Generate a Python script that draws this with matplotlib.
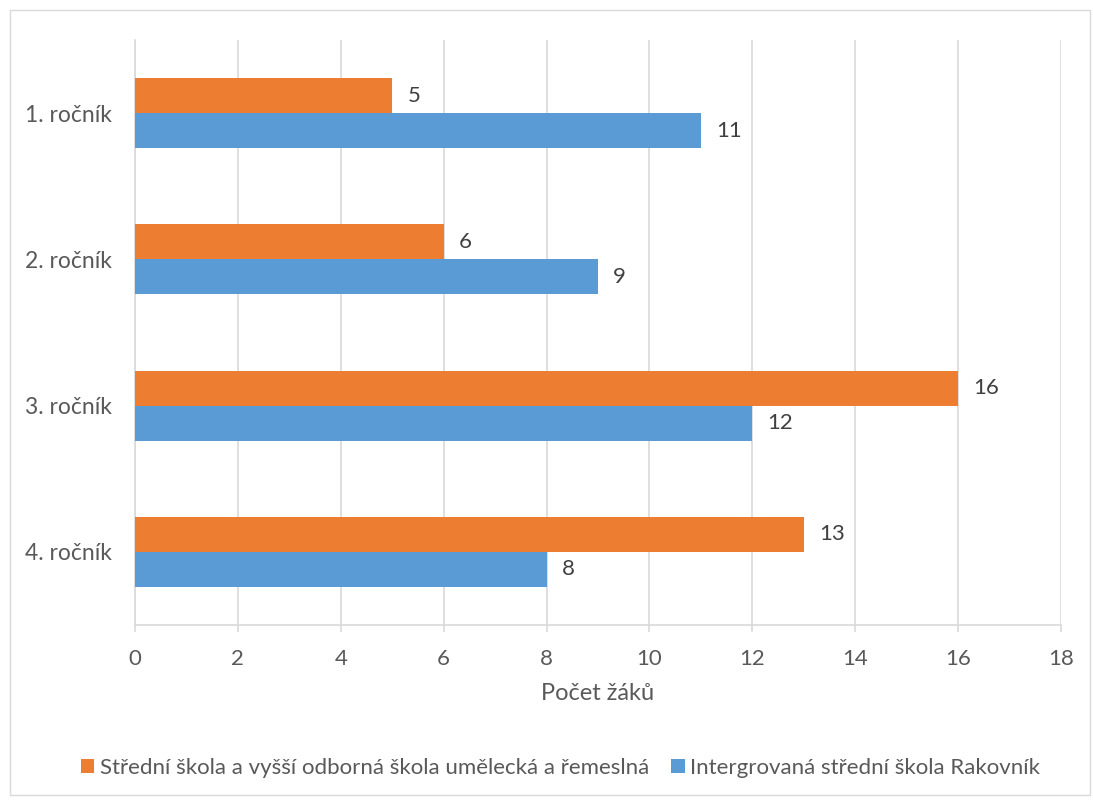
import matplotlib
matplotlib.use("Agg")
import matplotlib.pyplot as plt
import numpy as np
from matplotlib.patches import Rectangle

# data
categories = ["1. ročník", "2. ročník", "3. ročník", "4. ročník"]
series_names = ["Střední škola a vyšší odborná škola umělecká a řemeslná",
                "Intergrovaná střední škola Rakovník"]
orange_vals = [5, 6, 16, 13]
blue_vals = [11, 9, 12, 8]
x_ticks = [0, 2, 4, 6, 8, 10, 12, 14, 16, 18]

ORANGE = "#ED7D31"
BLUE = "#5B9BD5"
TEXT = "#595959"
GRID = "#D9D9D9"

plt.rcParams["font.family"] = ["Lato", "DejaVu Sans"]

fig = plt.figure(figsize=(10.93, 8), dpi=100)
fig.patches.append(Rectangle((10 / 1093, 5 / 800), 1080 / 1093, 785 / 800,
                             transform=fig.transFigure, fill=False,
                             edgecolor="#D9D9D9", linewidth=1))

ax = fig.add_axes([135 / 1093, 1 - 625 / 800, 926 / 1093, 585 / 800])

y = np.arange(len(categories))
h = 0.24
ax.barh(y - h / 2, orange_vals, height=h, color=ORANGE, label=series_names[0], zorder=3)
ax.barh(y + h / 2, blue_vals, height=h, color=BLUE, label=series_names[1], zorder=3)

# value labels right of each bar
for yi, v in zip(y, orange_vals):
    ax.annotate(str(v), (v, yi - h / 2), xytext=(11, 0), textcoords="offset points",
                va="center", ha="left", fontsize=16, color="#404040")
for yi, v in zip(y, blue_vals):
    ax.annotate(str(v), (v, yi + h / 2), xytext=(11, 0), textcoords="offset points",
                va="center", ha="left", fontsize=16, color="#404040")

ax.set_xlim(0, 18)
ax.set_ylim(3.5, -0.5)
ax.set_xticks(x_ticks)
ax.set_yticks(y)
ax.set_yticklabels(categories)
ax.xaxis.grid(True, color=GRID, linewidth=1.2, zorder=0)
ax.set_axisbelow(True)

for s in ["top", "right"]:
    ax.spines[s].set_visible(False)
ax.spines["bottom"].set_color(GRID)
ax.spines["left"].set_color(GRID)
ax.spines["bottom"].set_linewidth(1.2)
ax.spines["left"].set_linewidth(1.2)
ax.tick_params(axis="x", colors=GRID, length=5, width=1.2, labelcolor=TEXT,
               labelsize=16, pad=12)
ax.tick_params(axis="y", length=0, labelcolor=TEXT, labelsize=16.5, pad=16.5)
ax.set_xlabel("Počet žáků", fontsize=17, color=TEXT, labelpad=10)

fig.legend(loc="center", bbox_to_anchor=(0.513, 1 - 768 / 800), ncol=2, frameon=False,
           fontsize=16, labelcolor=TEXT, handlelength=0.6, handleheight=0.6,
           handletextpad=0.25, columnspacing=1.0)

fig.savefig("out.png", dpi=100, facecolor="white")
